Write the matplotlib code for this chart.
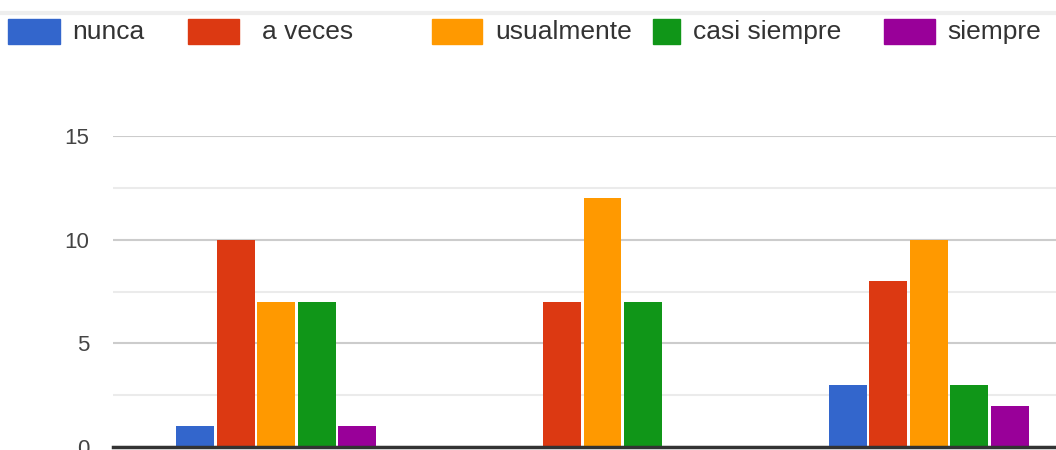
import numpy as np
import matplotlib
matplotlib.use('Agg')
import matplotlib.pyplot as plt
from matplotlib.patches import Rectangle

series = ['nunca', 'a veces', 'usualmente', 'casi siempre', 'siempre']
colors = ['#3366cc', '#dc3912', '#ff9900', '#109618', '#990099']
groups = ['', '', '']
nunca = [1, 0, 3]
a_veces = [10, 7, 8]
usualmente = [7, 12, 10]
casi_siempre = [7, 7, 3]
siempre = [1, 0, 2]
values = [nunca, a_veces, usualmente, casi_siempre, siempre]

plt.rcParams['font.family'] = ['Liberation Sans', 'DejaVu Sans']

fig = plt.figure(figsize=(10.56, 4.5), dpi=100)
ax = fig.add_axes([113/1056, 3/450, (1056-113)/1056, 311/450])

x = np.arange(len(groups))
slot = 0.124
bw = 0.116
for i, (name, vals) in enumerate(zip(series, values)):
    ax.bar(x + (i - 2) * slot, vals, bw, color=colors[i], zorder=3, linewidth=0)

ax.set_xlim(-0.5, 2.39)
ax.set_ylim(0, 15)
ax.set_yticks([0, 5, 10, 15])
ax.set_yticks([2.5, 7.5, 12.5], minor=True)
ax.grid(axis='y', which='major', color='#cccccc', linewidth=1.5, zorder=0)
ax.grid(axis='y', which='minor', color='#ebebeb', linewidth=1.5, zorder=0)
ax.set_xticks([])
for s in ['top', 'right', 'left']:
    ax.spines[s].set_visible(False)
ax.spines['bottom'].set_color('#333333')
ax.spines['bottom'].set_linewidth(2.5)
ax.spines['bottom'].set_zorder(4)
ax.tick_params(axis='y', which='both', length=0, pad=17, labelsize=16, labelcolor='#444444')
for lab in ax.get_yticklabels():
    lab.set_clip_on(False)

# legend across the top
fig.add_artist(plt.Line2D([0, 1], [1 - 13/450, 1 - 13/450], color='#eeeeee', linewidth=3))
sw = [(8, 60, 72), (188, 239, 262), (432, 482, 495), (653, 680, 693), (884, 935, 947)]
for (x0, x1, tx), name, c in zip(sw, series, colors):
    fig.add_artist(Rectangle((x0/1056, 1 - 44/450), (x1-x0)/1056, 25/450,
                             transform=fig.transFigure, color=c))
    fig.text(tx/1056, 1 - 32/450, name, fontsize=19, color='#333333', va='center', ha='left')

fig.savefig('out.png', dpi=100)
